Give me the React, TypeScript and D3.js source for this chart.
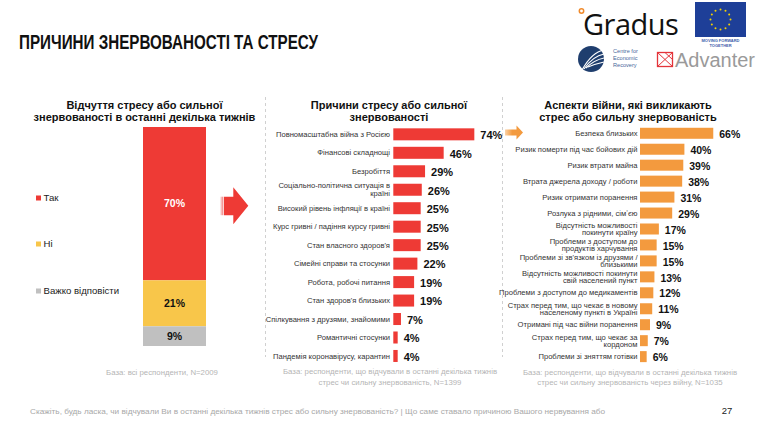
import React from "react";
import * as d3 from "d3";

const stackCategories = ["Так", "Ні", "Важко відповісти"];
const stackValues = [70, 21, 9];
const stackColors = ["#EE3A35", "#F8C64A", "#C0C0C0"];

const causeLabels = [
  "Повномасштабна війна з Росією",
  "Фінансові складнощі",
  "Безробіття",
  "Соціально-політична ситуація в|країні",
  "Високий рівень інфляції в країні",
  "Курс гривні / падіння курсу гривні",
  "Стан власного здоров'я",
  "Сімейні справи та стосунки",
  "Робота, робочі питання",
  "Стан здоров'я близьких",
  "Спілкування з друзями, знайомими",
  "Романтичні стосунки",
  "Пандемія коронавірусу, карантин",
];
const causeValues = [74, 46, 29, 26, 25, 25, 25, 22, 19, 19, 7, 4, 4];

const warLabels = [
  "Безпека близьких",
  "Ризик померти під час бойових дій",
  "Ризик втрати майна",
  "Втрата джерела доходу / роботи",
  "Ризик отримати поранення",
  "Розлука з рідними, сімʼєю",
  "Відсутність можливості|покинути країну",
  "Проблеми з доступом до|продуктів харчування",
  "Проблеми зі зв'язком із друзями /|близькими",
  "Відсутність можливості покинути|свій населений пункт",
  "Проблеми з доступом до медикаментів",
  "Страх перед тим, що чекає в новому|населеному пункті в Україні",
  "Отримані під час війни поранення",
  "Страх перед тим, що чекає за|кордоном",
  "Проблеми зі зняттям готівки",
];
const warValues = [66, 40, 39, 38, 31, 29, 17, 15, 15, 13, 12, 11, 9, 7, 6];

const RED = "#EE3A35";
const ORANGE = "#F39A3E";
const FONT = "'Liberation Sans', Arial, sans-serif";

function HBars({ labels, values, x0, x1, y0, y1, pad, color, labelX, fs, vfs, lineGap }: any) {
  const x = d3.scaleLinear().domain([0, 100]).range([x0, x1]);
  const y = d3.scaleBand<number>().domain(d3.range(labels.length)).range([y0, y1]).paddingInner(pad).paddingOuter(pad / 2);
  return (
    <g>
      {values.map((v: number, i: number) => {
        const yy = y(i)!;
        const cy = yy + y.bandwidth() / 2;
        const lines = labels[i].split("|");
        return (
          <g key={i}>
            <rect x={x(0)} y={yy} width={x(v) - x(0)} height={y.bandwidth()} fill={color} />
            {lines.map((t: string, k: number) => (
              <text key={k} x={labelX} y={cy + (k - (lines.length - 1) / 2) * lineGap} dy="0.35em" textAnchor="end" fontSize={fs} fill="#333">
                {t}
              </text>
            ))}
            <text x={x(v) + 6} y={cy + 1} dy="0.35em" fontSize={vfs} fontWeight="bold" fill="#111">
              {v}%
            </text>
          </g>
        );
      })}
    </g>
  );
}

export default function App() {
  const ys = d3.scaleLinear().domain([0, 100]).range([127, 346]);
  let acc = 0;
  const segs = stackValues.map((v, i) => {
    const s = { v, i, a: acc, b: acc + v };
    acc += v;
    return s;
  });
  const legendY = [198, 244, 291];

  const stars = d3.range(12).map((k) => {
    const a = (k / 12) * Math.PI * 2;
    return [720.5 + 10 * Math.cos(a), 19.5 + 10 * Math.sin(a)];
  });

  return (
    <svg width={764} height={421} style={{ position: "absolute", left: 0, top: 0, background: "#fff" }} fontFamily={FONT}>
      <rect width={764} height={421} fill="#fff" />
      {/* Main title */}
      <text x={19} y={48.5} fontSize={21} fontWeight="bold" fill="#111" textLength={299} lengthAdjust="spacingAndGlyphs">
        ПРИЧИНИ ЗНЕРВОВАНОСТІ ТА СТРЕСУ
      </text>

      {/* Logos */}
      <circle cx={581.5} cy={11} r={2.2} fill="none" stroke="#F08A2B" strokeWidth={1.5} />
      <text x={583} y={35} fontSize={29} fill="#111" fontFamily="'Open Sans', 'Noto Sans', sans-serif" letterSpacing={-0.5}>
        Gradus
      </text>
      <rect x={695} y={2} width={51} height={35} fill="#1E3F98" />
      {stars.map(([sx, sy], k) => (
        <circle key={k} cx={sx} cy={sy} r={1} fill="#F5D100" />
      ))}
      <text x={720.5} y={42} fontSize={4} fontWeight="bold" fill="#3E5DAA" textAnchor="middle">MOVING FORWARD</text>
      <text x={720.5} y={47} fontSize={4} fontWeight="bold" fill="#3E5DAA" textAnchor="middle">TOGETHER</text>
      <circle cx={591} cy={59} r={13} fill="#1F3E6E" />
      {[0, 1, 2, 3].map((k) => (
        <path key={k} d={`M ${582 + k * 2} ${70 - k * 1} Q ${592 + k} ${52 + k * 4} ${604} ${50 + k * 4}`} stroke="#fff" strokeWidth={1.2} fill="none" />
      ))}
      <text x={613} y={53} fontSize={5.6} fill="#47679A">Centre for</text>
      <text x={613} y={60} fontSize={5.6} fill="#47679A">Economic</text>
      <text x={613} y={67} fontSize={5.6} fill="#47679A">Recovery</text>
      <rect x={657.5} y={52.5} width={15} height={14} fill="none" stroke="#E4343A" strokeWidth={1.3} />
      <path d="M657.5 52.5 L672.5 66.5 M672.5 52.5 L657.5 66.5 M665 52.5 L672.5 59.5" stroke="#E4343A" strokeWidth={1} />
      <text x={675} y={67} fontSize={20} fill="#9A9A9A" fontFamily="'Liberation Sans', Arial, sans-serif" textLength={80} lengthAdjust="spacingAndGlyphs">
        Advanter
      </text>

      {/* Panel titles */}
      <g fontSize={11} fontWeight="bold" fill="#111" textAnchor="middle">
        <text x={144.5} y={108.5}>Відчуття стресу або сильної</text>
        <text x={144.5} y={120.5}>знервованості в останні декілька тижнів</text>
        <text x={389} y={108.5}>Причини стресу або сильної</text>
        <text x={389} y={120.5}>знервованості</text>
        <text x={628} y={108.5}>Аспекти війни, які викликають</text>
        <text x={628} y={120.5}>стрес або сильну знервованість</text>
      </g>

      {/* Separators */}
      <line x1={265.5} y1={97} x2={265.5} y2={357} stroke="#D0D0D0" strokeDasharray="3,3" />
      <line x1={502.5} y1={97} x2={502.5} y2={357} stroke="#D0D0D0" strokeDasharray="3,3" />

      {/* Stacked bar */}
      {segs.map((s) => (
        <g key={s.i}>
          <rect x={143} y={ys(s.a)} width={63} height={ys(s.b) - ys(s.a)} fill={stackColors[s.i]} />
          <text x={174.5} y={(ys(s.a) + ys(s.b)) / 2} dy="0.35em" textAnchor="middle" fontSize={10.5} fontWeight="bold" fill={s.i === 0 ? "#fff" : "#111"}>
            {s.v}%
          </text>
        </g>
      ))}
      {stackCategories.map((c, i) => (
        <g key={c}>
          <rect x={36} y={legendY[i] - 2.5} width={5} height={5} fill={stackColors[i]} />
          <text x={43.5} y={legendY[i]} dy="0.35em" fontSize={9.6} fill="#222">{c}</text>
        </g>
      ))}

      {/* Red arrow */}
      <rect x={220.7} y={196.7} width={1} height={18.5} fill="#F5A0A0" />
      <rect x={222.3} y={196.7} width={1} height={18.5} fill="#F07070" />
      <path d="M224 196.7 L233.3 196.7 L233.3 187.3 L248.3 205.8 L233.3 224.3 L233.3 215.2 L224 215.2 Z" fill={RED} />

      {/* Orange arrow */}
      <defs>
        <linearGradient id="og" x1="0" x2="1">
          <stop offset="0" stopColor="#FBD3A8" />
          <stop offset="0.4" stopColor={ORANGE} />
          <stop offset="1" stopColor={ORANGE} />
        </linearGradient>
      </defs>
      <path d="M505 129.5 L516.5 129.5 L516.5 125.5 L523 132.5 L516.5 139.5 L516.5 135.5 L505 135.5 Z" fill="url(#og)" />

      <HBars labels={causeLabels} values={causeValues} x0={393.3} x1={502.8} y0={125.1} y1={365.2} pad={0.35} color={RED} labelX={390} fs={7.6} vfs={11} lineGap={8} />
      <HBars labels={warLabels} values={warValues} x0={640} x1={751} y0={125.3} y1={364.6} pad={0.31} color={ORANGE} labelX={637.5} fs={7.6} vfs={10.5} lineGap={7.6} />

      {/* Footers */}
      <g fontSize={7.8} fill="#B5B5B5" textAnchor="middle">
        <text x={162} y={375}>База: всі респонденти, N=2009</text>
        <text x={390} y={374}>База: респонденти, що відчували в останні декілька тижнів</text>
        <text x={390} y={385}>стрес чи сильну знервованість, N=1399</text>
        <text x={630} y={375}>База: респонденти, що відчували в останні декілька тижнів</text>
        <text x={630} y={385}>стрес чи сильну знервованість через війну, N=1035</text>
      </g>
      <text x={30} y={414} fontSize={7.8} fill="#A8A8A8" textLength={575} lengthAdjust="spacingAndGlyphs">
        Скажіть, будь ласка, чи відчували Ви в останні декілька тижнів стрес або сильну знервованість? | Що саме ставало причиною Вашого нервування або
      </text>
      <text x={727} y={414} fontSize={9.5} fill="#222" textAnchor="middle">27</text>
    </svg>
  );
}
